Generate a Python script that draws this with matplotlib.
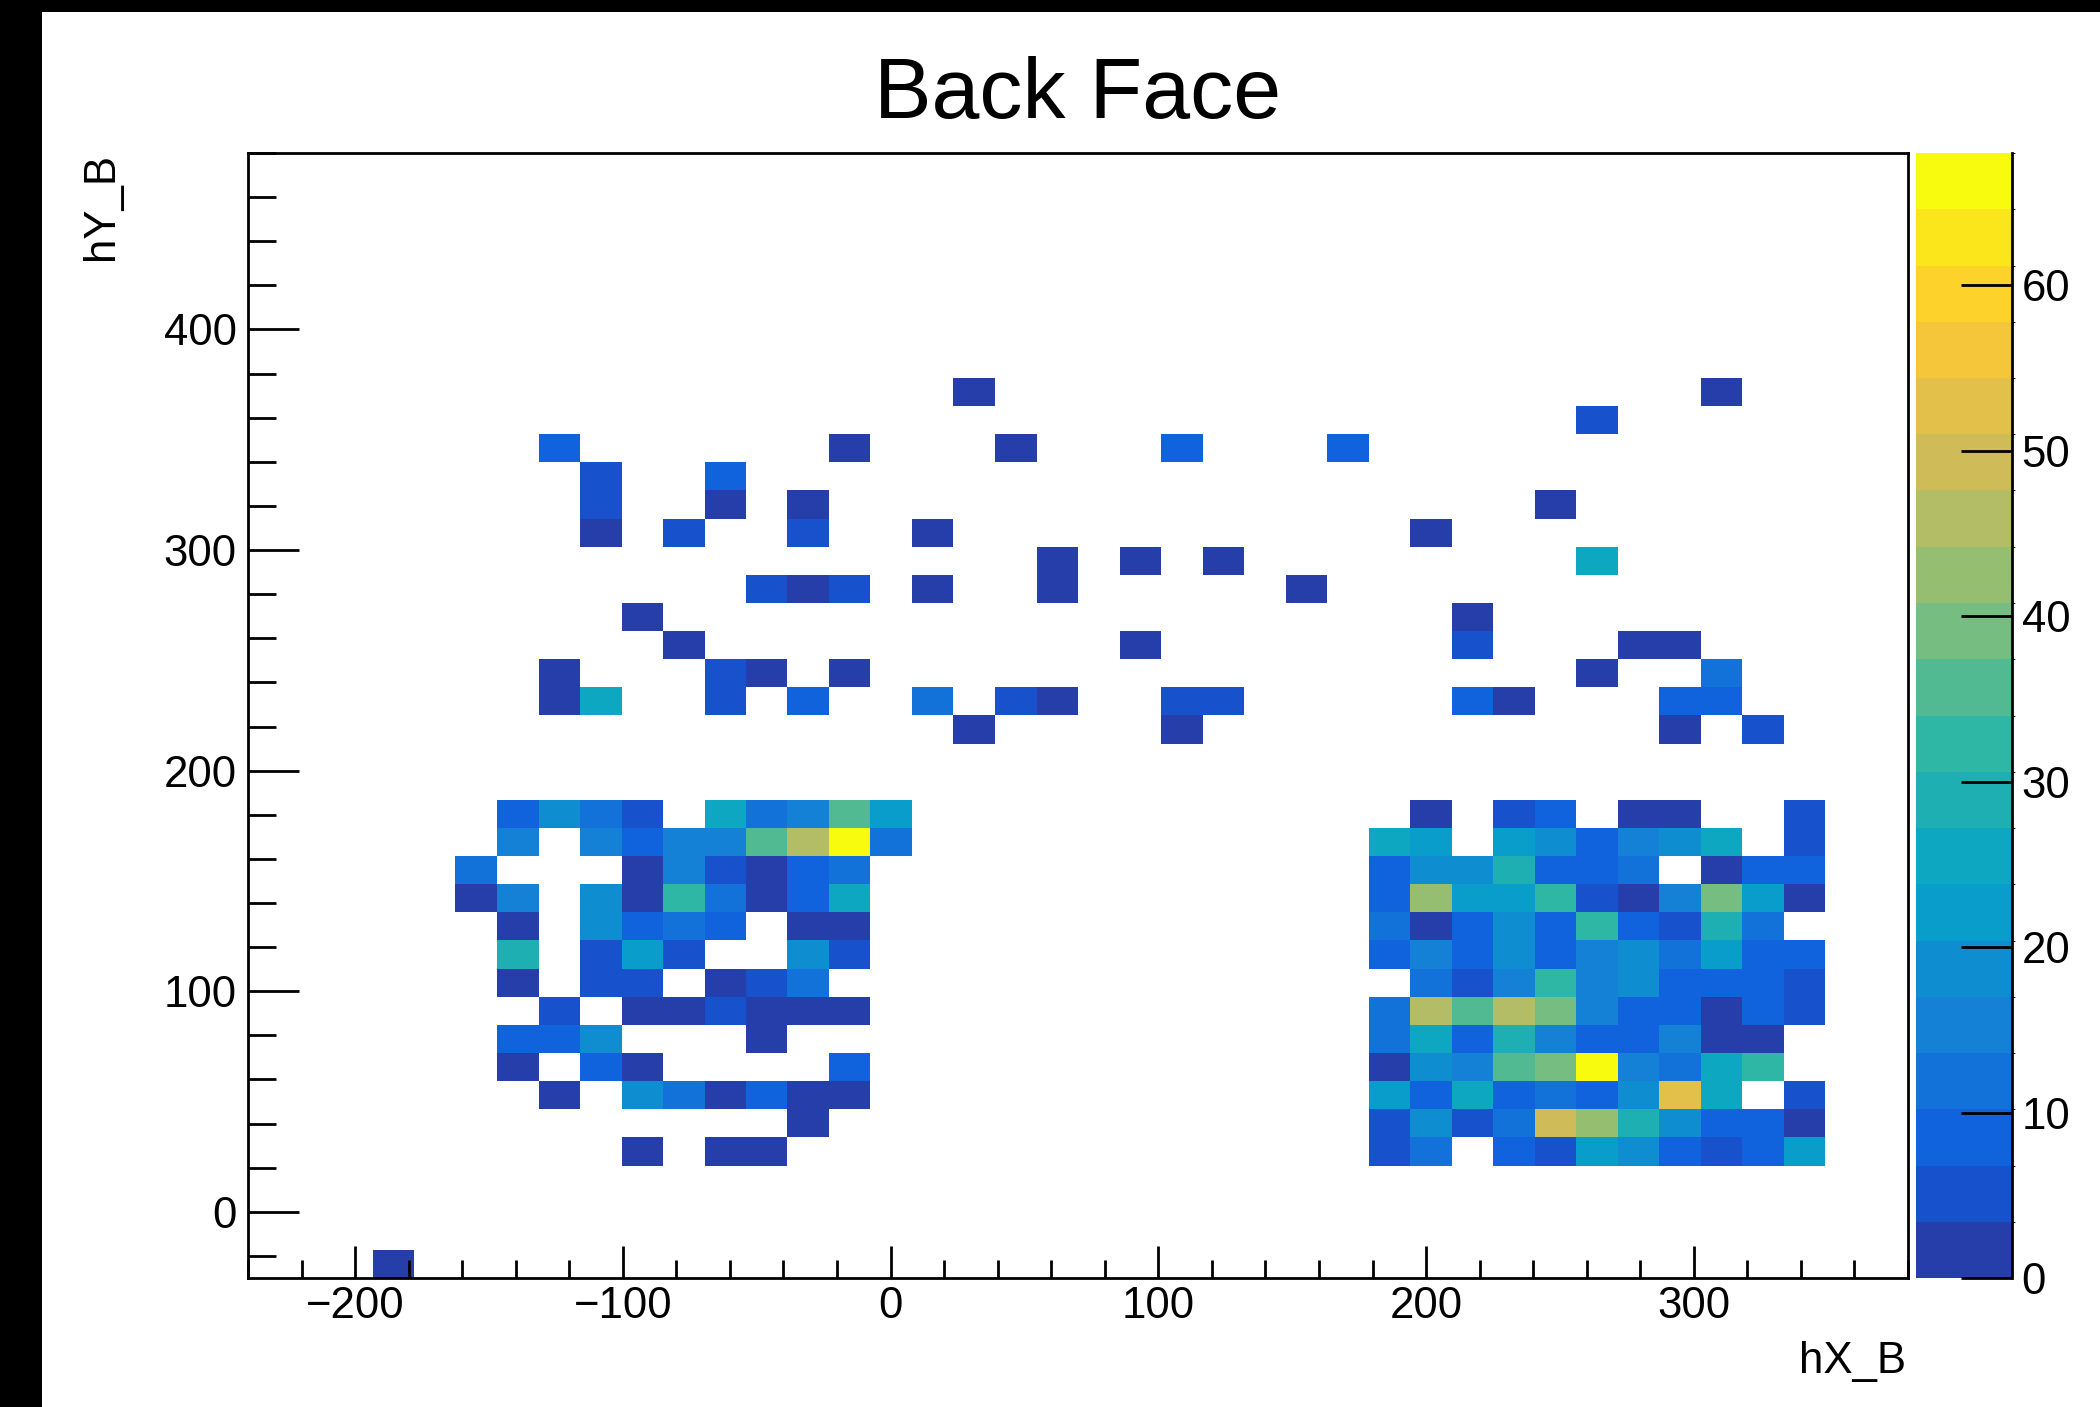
#!/usr/bin/env python3
"""
Back Face hit map - hX_B vs hY_B, colz style
"""

import numpy as np
import matplotlib
matplotlib.use('Agg')
import matplotlib.pyplot as plt
from matplotlib.colors import ListedColormap, BoundaryNorm
from matplotlib.patches import Rectangle
from matplotlib.ticker import MultipleLocator

# 40 x 40 binning of the histogram
X_EDGES = np.linspace(-240, 380, 41)
Y_EDGES = np.linspace(-30, 480, 41)

# dense blocks, rows listed from y bin 16 down to y bin 4
BLOCK_Y_TOP = 16
LEFT_X0 = 5
left_block = [
    [0, 8, 19, 12, 5, 0, 25, 12, 15, 36, 22],
    [0, 15, 0, 15, 8, 15, 15, 36, 46, 66, 12],
    [12, 0, 0, 0, 2, 15, 5, 2, 8, 12, 0],
    [1, 15, 0, 19, 2, 32, 12, 2, 8, 25, 0],
    [0, 2, 0, 19, 8, 12, 8, 0, 2, 2, 0],
    [0, 29, 0, 5, 22, 5, 0, 0, 19, 5, 0],
    [0, 2, 0, 5, 5, 0, 2, 5, 12, 0, 0],
    [0, 0, 5, 0, 2, 2, 5, 2, 2, 2, 0],
    [0, 8, 8, 19, 0, 0, 0, 2, 0, 0, 0],
    [0, 2, 0, 8, 2, 0, 0, 0, 0, 8, 0],
    [0, 0, 2, 0, 19, 12, 2, 8, 2, 2, 0],
    [0, 0, 0, 0, 0, 0, 0, 0, 2, 0, 0],
    [0, 0, 0, 0, 2, 0, 2, 2, 0, 0, 0],
]
RIGHT_X0 = 27
right_block = [
    [0, 2, 0, 5, 8, 0, 2, 2, 0, 0, 5],
    [25, 22, 0, 22, 19, 8, 15, 19, 25, 0, 5],
    [8, 19, 19, 29, 8, 8, 12, 0, 2, 8, 8],
    [8, 42, 22, 22, 32, 5, 2, 15, 39, 22, 2],
    [12, 2, 8, 19, 8, 32, 8, 5, 29, 12, 0],
    [8, 15, 8, 19, 8, 15, 19, 12, 22, 8, 8],
    [0, 12, 5, 15, 32, 15, 19, 8, 8, 8, 5],
    [12, 46, 36, 46, 39, 15, 8, 8, 2, 8, 5],
    [12, 25, 8, 29, 15, 8, 8, 15, 2, 2, 0],
    [2, 19, 15, 36, 39, 68, 15, 12, 25, 32, 0],
    [22, 8, 25, 8, 12, 8, 19, 53, 25, 0, 5],
    [5, 19, 5, 12, 49, 42, 29, 19, 8, 8, 2],
    [5, 12, 0, 8, 5, 22, 19, 8, 5, 8, 22],
]

# scattered bins above the blocks: x bin, y bin, entries
sparse_ix = [
    17, 35,
    32,
    7, 14, 18, 22, 26,
    8, 11,
    8, 11, 13, 31,
    8, 10, 13, 16, 28,
    19, 21, 23, 32,
    12, 13, 14, 16, 19, 25,
    9, 29,
    10, 21, 29, 33, 34,
    7, 11, 12, 14, 32, 35,
    7, 8, 11, 13, 16, 18, 19, 22, 23, 29, 30, 34, 35,
    17, 22, 34, 36,
    3,
]
sparse_iy = [
    31, 31,
    30,
    29, 29, 29, 29, 29,
    28, 28,
    27, 27, 27, 27,
    26, 26, 26, 26, 26,
    25, 25, 25, 25,
    24, 24, 24, 24, 24, 24,
    23, 23,
    22, 22, 22, 22, 22,
    21, 21, 21, 21, 21, 21,
    20, 20, 20, 20, 20, 20, 20, 20, 20, 20, 20, 20, 20,
    19, 19, 19, 19,
    0,
]
sparse_n = [
    1, 1,
    5,
    8, 1, 1, 8, 8,
    5, 8,
    5, 1, 1, 1,
    1, 5, 5, 1, 1,
    1, 1, 1, 25,
    5, 1, 5, 1, 1, 1,
    1, 1,
    1, 1, 5, 1, 1,
    1, 5, 1, 1, 1, 12,
    1, 25, 5, 8, 12, 5, 1, 5, 5, 8, 1, 8, 8,
    1, 1, 1, 5,
    1,
]

COLZ_LEVELS = 20


def build_counts():
    """ビン内容の2次元配列を作る"""
    counts = np.zeros((len(Y_EDGES) - 1, len(X_EDGES) - 1))
    for x0, block in ((LEFT_X0, left_block), (RIGHT_X0, right_block)):
        for r, row in enumerate(block):
            counts[BLOCK_Y_TOP - r, x0:x0 + len(row)] += row
    np.add.at(counts, (np.array(sparse_iy), np.array(sparse_ix)), sparse_n)
    return counts


def bird_palette(ncont):
    """kBird palette sampled per contour level"""
    stops = [0.0000, 0.1250, 0.2500, 0.3750, 0.5000, 0.6250, 0.7500, 0.8750, 1.0000]
    red = [0.2082, 0.0592, 0.0780, 0.0232, 0.1802, 0.5301, 0.8186, 0.9956, 0.9764]
    green = [0.1664, 0.3599, 0.5041, 0.6419, 0.7178, 0.7492, 0.7328, 0.7862, 0.9832]
    blue = [0.5293, 0.8684, 0.8385, 0.7914, 0.6425, 0.4662, 0.3499, 0.1968, 0.0539]
    frac = (np.arange(ncont) + 0.99) / ncont
    rgb = np.column_stack([np.interp(frac, stops, c) for c in (red, green, blue)])
    return ListedColormap(rgb)


def main():
    plt.rcParams['font.family'] = ['Liberation Sans', 'DejaVu Sans']

    counts = build_counts()
    zmax = counts.max()
    cmap = bird_palette(COLZ_LEVELS)
    norm = BoundaryNorm(np.linspace(0, zmax, COLZ_LEVELS + 1), COLZ_LEVELS)

    W, H = 2100, 1407
    fig = plt.figure(figsize=(W / 100, H / 100), dpi=100)
    ax = fig.add_axes([248 / W, 129 / H, 1660 / W, 1125 / H])
    cax = fig.add_axes([1916 / W, 129 / H, 96 / W, 1125 / H])

    # 空ビンは描かない
    mesh = ax.pcolormesh(X_EDGES, Y_EDGES, np.ma.masked_equal(counts, 0),
                         cmap=cmap, norm=norm, edgecolors='none', antialiased=False)
    ax.set_xlim(X_EDGES[0], X_EDGES[-1])
    ax.set_ylim(Y_EDGES[0], Y_EDGES[-1])

    # 軸設定
    ax.xaxis.set_major_locator(MultipleLocator(100))
    ax.xaxis.set_minor_locator(MultipleLocator(20))
    ax.yaxis.set_major_locator(MultipleLocator(100))
    ax.yaxis.set_minor_locator(MultipleLocator(20))
    ax.tick_params(axis='both', which='both', direction='in', width=2,
                   top=False, right=False, labelsize=31.5, colors='black')
    ax.tick_params(axis='x', which='major', length=23, pad=6)
    ax.tick_params(axis='x', which='minor', length=13)
    ax.tick_params(axis='y', which='major', length=37, pad=8)
    ax.tick_params(axis='y', which='minor', length=20)
    for sp in ax.spines.values():
        sp.set_linewidth(2)

    # カラーバー
    cbar = fig.colorbar(mesh, cax=cax, ticks=np.arange(0, 61, 10))
    cbar.outline.set_visible(False)
    cax.tick_params(direction='in', length=37, width=2, labelsize=31.5, pad=7)
    cax.plot([1, 1], [0, 1], color='black', lw=2, transform=cax.transAxes, clip_on=False)

    # タイトルと軸ラベル
    fig.text(1078 / W, 1 - 118 / H, 'Back Face', ha='center', va='baseline', fontsize=62)
    fig.text(1906 / W, 1 - 1373 / H, 'hX_B', ha='right', va='baseline', fontsize=31.5)
    fig.text(113 / W, 1 - 153 / H, 'hY_B', rotation=90, rotation_mode='anchor',
             ha='right', va='baseline', fontsize=31.5)

    # 画面キャプチャの黒枠
    fig.patches.append(Rectangle((0, 0), 42 / W, 1, transform=fig.transFigure,
                                 facecolor='black', edgecolor='none', zorder=10))
    fig.patches.append(Rectangle((0, 1 - 12 / H), 1, 12 / H, transform=fig.transFigure,
                                 facecolor='black', edgecolor='none', zorder=10))

    fig.savefig('out.png', dpi=100)
    plt.close(fig)


if __name__ == '__main__':
    main()
